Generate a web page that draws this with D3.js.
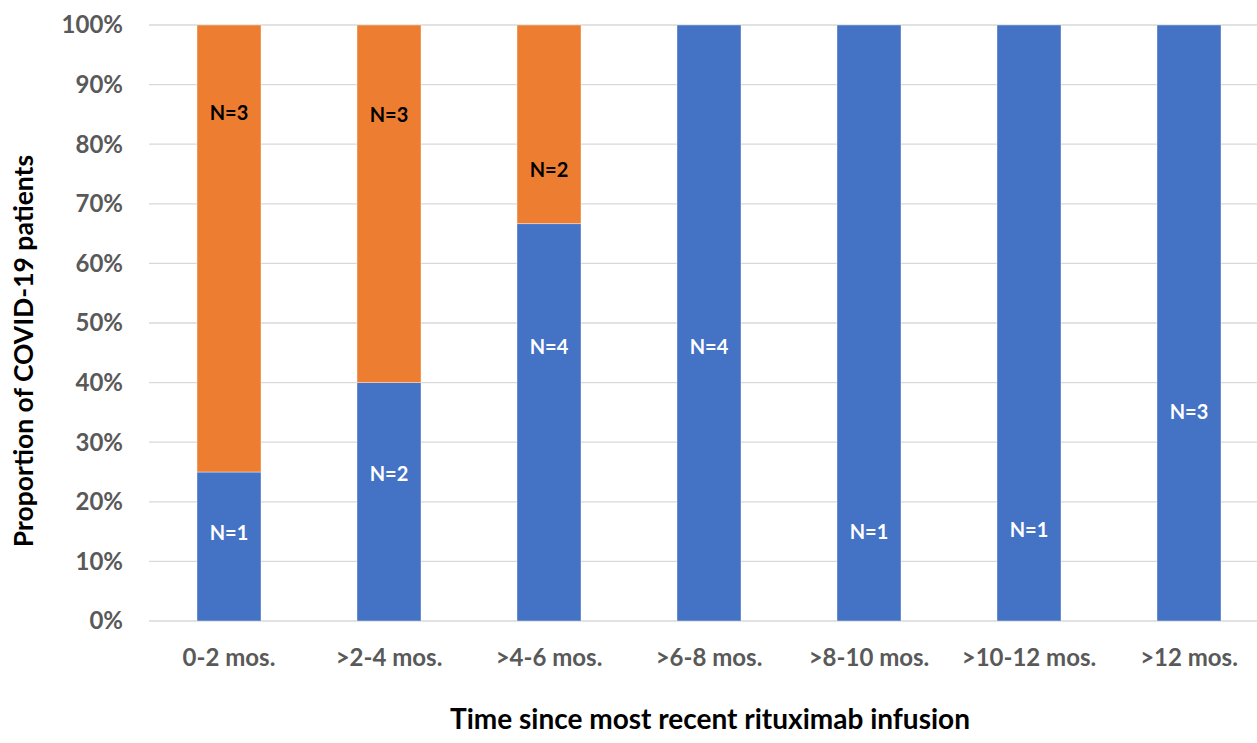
<!DOCTYPE html>
<html lang="en">
<head>
    <meta charset="UTF-8">
    <title>Time since most recent rituximab infusion</title>
    <script src="https://d3js.org/d3.v7.min.js"></script>
    <style>
        body { margin: 0; background: #fff; }
        text { font-family: Lato, "Open Sans", sans-serif; font-weight: bold; }
    </style>
</head>
<body>
    <div id="chart"></div>
    <script>
        // categories and counts per outcome
        var categories = ["0-2 mos.", ">2-4 mos.", ">4-6 mos.", ">6-8 mos.", ">8-10 mos.", ">10-12 mos.", ">12 mos."];
        var blueCounts = [1, 2, 4, 4, 1, 1, 3];
        var orangeCounts = [3, 3, 2, 0, 0, 0, 0];
        // where each N label sits, in percent (placed by hand in the original)
        var blueLabelAt = [14.8, 24.7, 46, 46, 15, 15.3, 35];
        var orangeLabelAt = [85.2, 84.9, 75.7, null, null, null, null];
        var yTicks = [0, 10, 20, 30, 40, 50, 60, 70, 80, 90, 100];

        var width = 1257, height = 743;
        var blue = "#4472C4", orange = "#ED7D31";

        var svg = d3.select("#chart").append("svg")
            .attr("width", width)
            .attr("height", height);

        var x = d3.scaleBand()
            .domain(categories)
            .range([149, 1269])
            .paddingInner(0.6)
            .paddingOuter(0.3);

        var y = d3.scaleLinear()
            .domain([0, 100])
            .range([621, 25]);

        // gridlines
        svg.append("g")
            .selectAll("line")
            .data(yTicks)
            .enter().append("line")
            .attr("x1", 149).attr("x2", width)
            .attr("y1", d => y(d)).attr("y2", d => y(d))
            .attr("stroke", "#d9d9d9")
            .attr("stroke-width", 1.3);

        // y tick labels
        svg.append("g")
            .selectAll("text")
            .data(yTicks)
            .enter().append("text")
            .attr("x", 123)
            .attr("y", d => y(d))
            .attr("dy", "0.35em")
            .attr("text-anchor", "end")
            .attr("fill", "#595959")
            .style("font-size", "24px")
            .text(d => d + "%");

        var rows = categories.map((c, i) => {
            var total = blueCounts[i] + orangeCounts[i];
            return { cat: c, b: blueCounts[i], o: orangeCounts[i], bp: blueCounts[i] / total * 100, i: i };
        });

        // blue segments
        svg.append("g").selectAll("rect")
            .data(rows)
            .enter().append("rect")
            .attr("x", d => x(d.cat))
            .attr("width", x.bandwidth())
            .attr("y", d => y(d.bp))
            .attr("height", d => y(0) - y(d.bp))
            .attr("fill", blue)
            .attr("stroke", "#ffffff")
            .attr("stroke-opacity", 0.5)
            .attr("stroke-width", 0.8);

        // orange segments
        svg.append("g").selectAll("rect")
            .data(rows.filter(d => d.o > 0))
            .enter().append("rect")
            .attr("x", d => x(d.cat))
            .attr("width", x.bandwidth())
            .attr("y", y(100))
            .attr("height", d => y(d.bp) - y(100))
            .attr("fill", orange)
            .attr("stroke", "#ffffff")
            .attr("stroke-opacity", 0.5)
            .attr("stroke-width", 0.8);

        // N labels
        svg.append("g").selectAll("text")
            .data(rows)
            .enter().append("text")
            .attr("x", d => x(d.cat) + x.bandwidth() / 2)
            .attr("y", d => y(blueLabelAt[d.i]))
            .attr("dy", "0.35em")
            .attr("text-anchor", "middle")
            .attr("fill", "#ffffff")
            .style("font-size", "20px")
            .text(d => "N=" + d.b);

        svg.append("g").selectAll("text")
            .data(rows.filter(d => d.o > 0))
            .enter().append("text")
            .attr("x", d => x(d.cat) + x.bandwidth() / 2)
            .attr("y", d => y(orangeLabelAt[d.i]))
            .attr("dy", "0.35em")
            .attr("text-anchor", "middle")
            .attr("fill", "#000000")
            .style("font-size", "20px")
            .text(d => "N=" + d.o);

        // category labels
        svg.append("g").selectAll("text")
            .data(categories)
            .enter().append("text")
            .attr("x", d => x(d) + x.bandwidth() / 2)
            .attr("y", 658)
            .attr("dy", "0.35em")
            .attr("text-anchor", "middle")
            .attr("fill", "#595959")
            .style("font-size", "24px")
            .text(d => d);

        // axis titles
        svg.append("text")
            .attr("x", 710)
            .attr("y", 729)
            .attr("text-anchor", "middle")
            .attr("fill", "#000")
            .style("font-size", "28px")
            .text("Time since most recent rituximab infusion");

        svg.append("text")
            .attr("transform", "translate(24,351) rotate(-90)")
            .attr("dy", "0.35em")
            .attr("text-anchor", "middle")
            .attr("fill", "#000")
            .style("font-size", "26.5px")
            .text("Proportion of COVID-19 patients");
    </script>
</body>
</html>
